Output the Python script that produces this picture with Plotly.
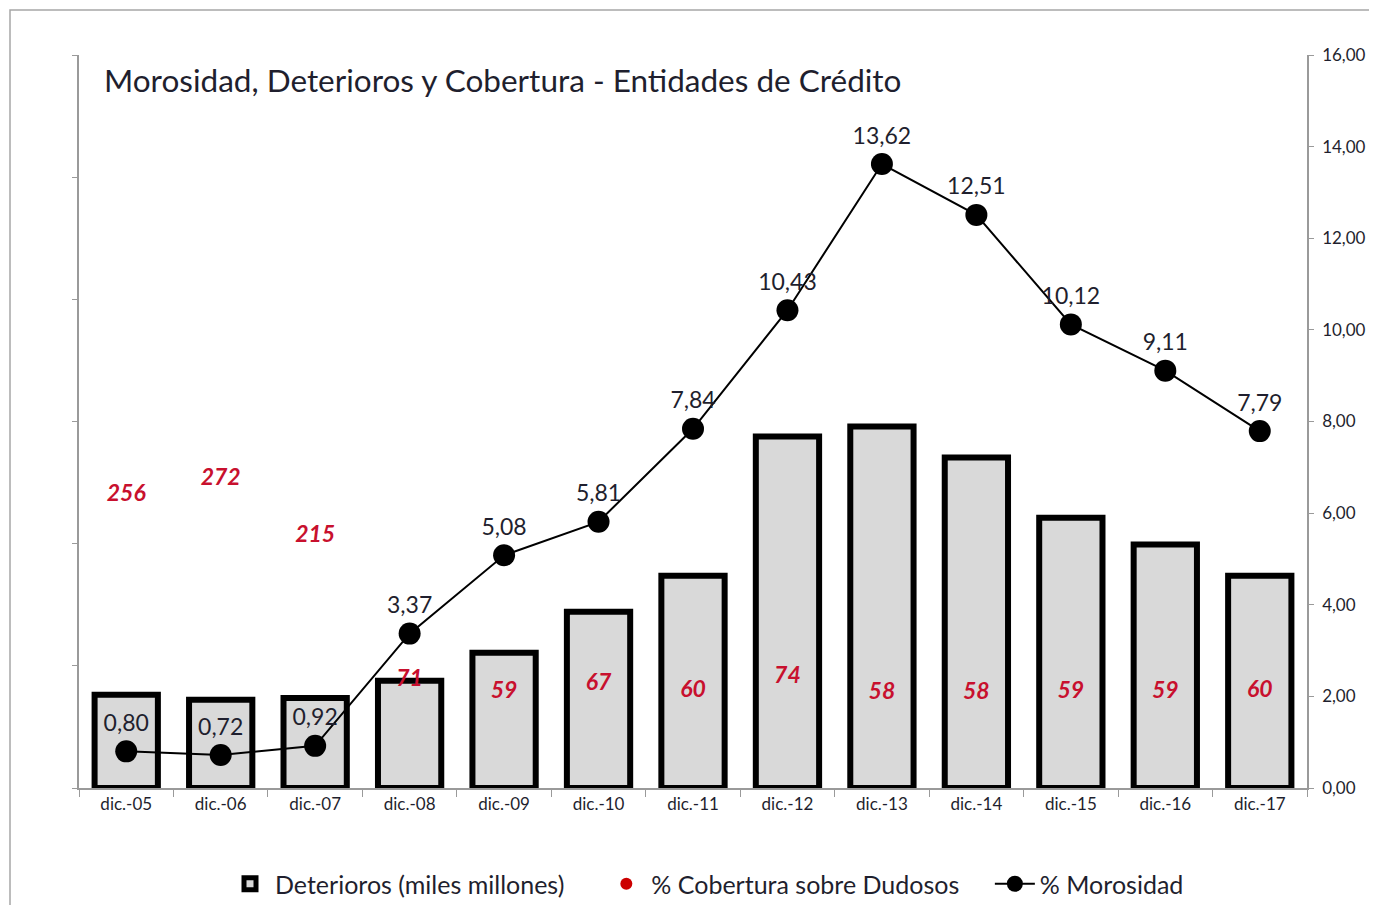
import plotly.graph_objects as go

categories = ["dic.-05", "dic.-06", "dic.-07", "dic.-08", "dic.-09", "dic.-10", "dic.-11",
              "dic.-12", "dic.-13", "dic.-14", "dic.-15", "dic.-16", "dic.-17"]
deterioros = [30.5, 28.9, 29.5, 35.1, 44.3, 57.7, 69.5, 115.1, 118.4, 108.2, 88.5, 79.7, 69.5]
cobertura = [256, 272, 215, 71, 59, 67, 60, 74, 58, 58, 59, 59, 60]
morosidad = [0.80, 0.72, 0.92, 3.37, 5.08, 5.81, 7.84, 10.43, 13.62, 12.51, 10.12, 9.11, 7.79]

FONT = "Lato"
TXT = "#1f1f2e"
RED = "#c8102e"
GRID = "#9a9a9a"
NB = "\u00a0"

# page offset of the figure div (browser default body margin)
OFF = 8
W, H = 1377 - 2 * OFF, 913 - 2 * OFF
PL, PR, PT, PB = 79 - OFF, 1307 - OFF, 55 - OFF, 788 - OFF  # plot box in figure px
PW, PH = PR - PL, PB - PT

fig = go.Figure()

fig.add_trace(go.Bar(
    x=categories, y=deterioros, name="Deterioros (miles millones)" + NB * 5,
    marker=dict(color="#d9d9d9", line=dict(color="black", width=6)),
    width=0.67, yaxis="y",
))

fig.add_trace(go.Scatter(
    x=[None], y=[None], mode="markers", name="% Cobertura sobre Dudosos" + NB * 4,
    marker=dict(color="#cc0000", size=12), yaxis="y",
))

fig.add_trace(go.Scatter(
    x=categories, y=morosidad, name="% Morosidad", mode="lines+markers+text",
    line=dict(color="black", width=2),
    marker=dict(color="black", size=22),
    texttemplate="%{y:.2f}", textposition="top center",
    textfont=dict(family=FONT, size=23, color=TXT),
    yaxis="y2",
))

fig.add_trace(go.Scatter(
    x=categories, y=cobertura, mode="text", showlegend=False,
    text=[str(v) for v in cobertura], textposition="middle center",
    textfont=dict(family=FONT, size=23, color=RED, weight="bold", style="italic"),
    yaxis="y3", hoverinfo="skip",
))

fig.update_layout(
    width=W, height=H,
    margin=dict(l=PL, r=W - PR, t=PT, b=H - PB),
    paper_bgcolor="white", plot_bgcolor="white",
    separators=",.",
    font=dict(family=FONT, color=TXT),
    xaxis=dict(
        type="category", range=[-0.5, len(categories) - 0.5],
        showline=True, linecolor=GRID, linewidth=1.5,
        ticks="outside", tickson="boundaries", ticklen=7, tickcolor=GRID,
        tickfont=dict(size=17, color=TXT), showgrid=False, automargin=False,
    ),
    yaxis=dict(
        range=[0, 240], dtick=40, showline=True, linecolor=GRID, linewidth=1.5,
        ticks="outside", ticklen=5, tickcolor=GRID, showticklabels=False,
        showgrid=False, zeroline=False, automargin=False,
    ),
    yaxis2=dict(
        range=[0, 16], dtick=2, overlaying="y", side="right", showline=True,
        linecolor=GRID, linewidth=1.5, ticks="outside", ticklen=5, tickcolor=GRID,
        tickformat=".2f", tickfont=dict(size=17, color=TXT), showgrid=False,
        zeroline=False, ticklabelstandoff=5, automargin=False,
    ),
    yaxis3=dict(
        range=[751 - 788, 751 - 55], overlaying="y", visible=False, showgrid=False,
    ),
    legend=dict(
        orientation="h", xref="container", x=(225 - OFF) / W, xanchor="left",
        yref="container", y=(913 - OFF - 884) / H, yanchor="middle",
        font=dict(size=25, color=TXT), itemwidth=40,
    ),
    annotations=[dict(
        text="Morosidad, Deterioros y Cobertura - Entidades de Crédito",
        xref="paper", yref="paper", x=(102 - 79) / PW, y=(788 - 80) / PH,
        xanchor="left", yanchor="middle", showarrow=False,
        font=dict(family=FONT, size=31.5, color=TXT),
    )],
    shapes=[dict(
        type="rect", xref="paper", yref="paper",
        x0=(10 - 79) / PW, x1=1.3, y0=-0.4, y1=(788 - 10) / PH,
        line=dict(color="#a6a6a6", width=1.5), layer="below",
    )],
)

fig.write_html("out.html")
